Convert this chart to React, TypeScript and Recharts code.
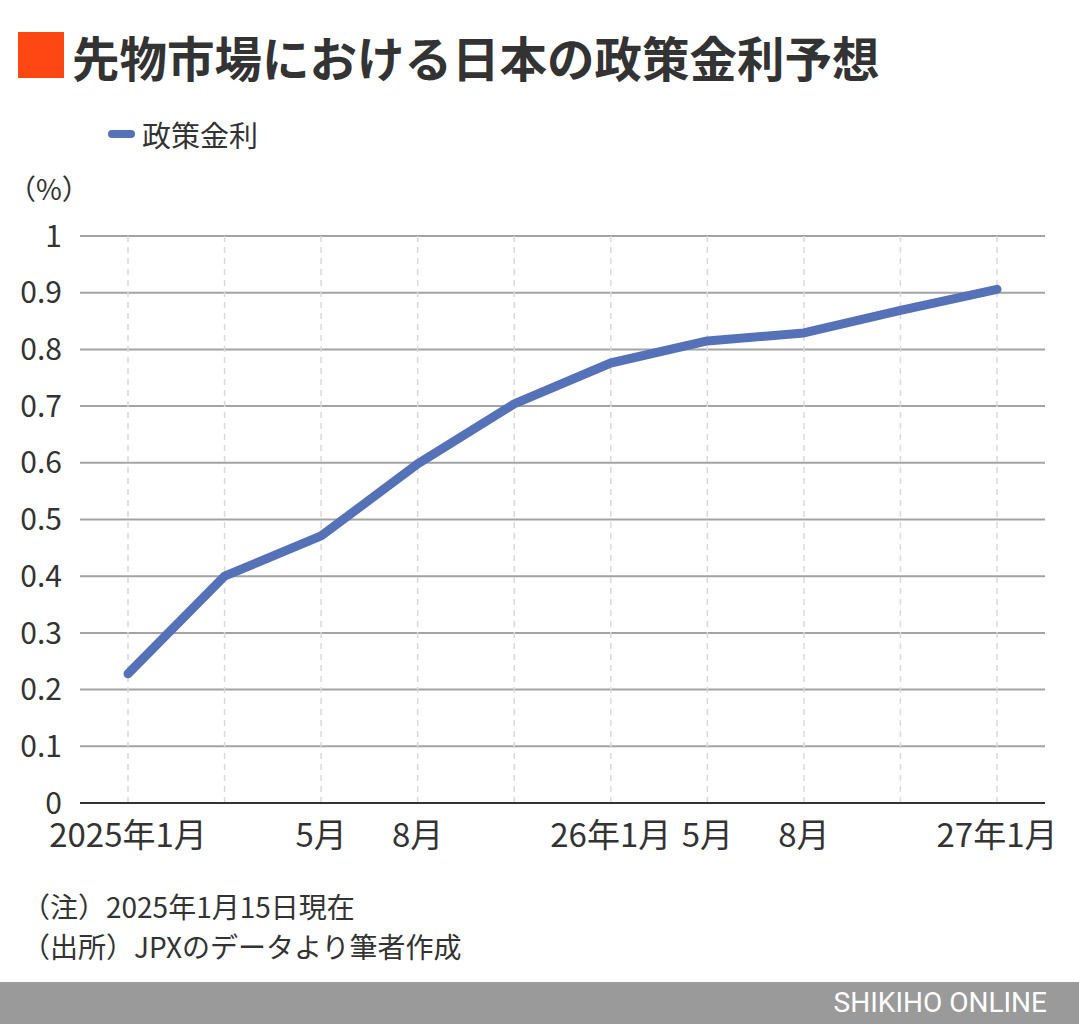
import React from "react";
import { LineChart, Line, XAxis, YAxis, CartesianGrid } from "recharts";

const categories = ["2025-01", "2025-03", "2025-05", "2025-08", "2025-10", "2026-01", "2026-05", "2026-08", "2026-10", "2027-01"];
const tickLabels = ["2025年1月", "", "5月", "8月", "", "26年1月", "5月", "8月", "", "27年1月"];
const policyRate = [0.228, 0.4, 0.471, 0.598, 0.704, 0.776, 0.815, 0.829, 0.869, 0.906];
const yTicks = [0, 0.1, 0.2, 0.3, 0.4, 0.5, 0.6, 0.7, 0.8, 0.9, 1];

const data = categories.map((c, i) => ({ cat: c, label: tickLabels[i], rate: policyRate[i] }));

const FONT = '"Noto Sans CJK JP", "Noto Sans", sans-serif';
const TEXT = "#333333";
const LINE = "#5571b8";

export default function App() {
  return (
    <div style={{ position: "absolute", left: 0, top: 0, width: 1079, height: 1024, background: "#fff", fontFamily: FONT, color: TEXT, overflow: "hidden" }}>
      <div style={{ position: "absolute", left: 18, top: 32, width: 46, height: 46, background: "#ff4713" }} />
      <div style={{ position: "absolute", left: 72, top: 27, fontSize: 47.5, fontWeight: 700, lineHeight: "60px", whiteSpace: "nowrap", color: TEXT }}>
        先物市場における日本の政策金利予想
      </div>
      <div style={{ position: "absolute", left: 108, top: 130, width: 27, height: 8, borderRadius: 4, background: LINE }} />
      <div style={{ position: "absolute", left: 142, top: 114, fontSize: 29, lineHeight: "40px", whiteSpace: "nowrap" }}>政策金利</div>
      <div style={{ position: "absolute", left: 8, top: 170, fontSize: 28, lineHeight: "36px", whiteSpace: "nowrap" }}>（%）</div>

      <div style={{ position: "absolute", left: 0, top: 0 }}>
        <LineChart width={1079} height={880} data={data} margin={{ top: 236, right: 34, bottom: 27, left: 10 }}>
          <CartesianGrid vertical={false} stroke="#a3a3a3" strokeWidth={2} />
          <CartesianGrid horizontal={false} syncWithTicks={true} stroke="#d9d9d9" strokeWidth={1.5} strokeDasharray="6 5" />
          <XAxis
            dataKey="cat"
            interval={0}
            padding={{ left: 48, right: 48 }}
            height={50}
            tickSize={0}
            tickMargin={21}
            axisLine={{ stroke: "#333", strokeWidth: 2 }}
            tickLine={false}
            tickFormatter={(v, i) => tickLabels[i]}
            tick={{ fontSize: 33, fill: TEXT, fontFamily: FONT }}
          />
          <YAxis
            domain={[0, 1]}
            ticks={yTicks}
            width={70}
            axisLine={false}
            tickLine={false}
            tickSize={0}
            tickMargin={18}
            interval={0}
            tick={{ fontSize: 30, fill: TEXT, fontFamily: FONT }}
          />
          <Line type="linear" dataKey="rate" stroke={LINE} strokeWidth={9} strokeLinecap="round" strokeLinejoin="round" dot={false} isAnimationActive={false} />
        </LineChart>
      </div>

      <div style={{ position: "absolute", left: 22, top: 886, fontSize: 28, lineHeight: "40px", whiteSpace: "nowrap" }}>（注）2025年1月15日現在</div>
      <div style={{ position: "absolute", left: 22, top: 926, fontSize: 28, lineHeight: "40px", whiteSpace: "nowrap" }}>（出所）JPXのデータより筆者作成</div>

      <div style={{ position: "absolute", left: 0, top: 982, width: 1079, height: 42, background: "#9a9a9a" }}>
        <div style={{ position: "absolute", right: 32, top: 3, fontSize: 28, lineHeight: "36px", color: "#fff", fontFamily: "Roboto, sans-serif", whiteSpace: "nowrap" }}>SHIKIHO ONLINE</div>
      </div>
    </div>
  );
}
